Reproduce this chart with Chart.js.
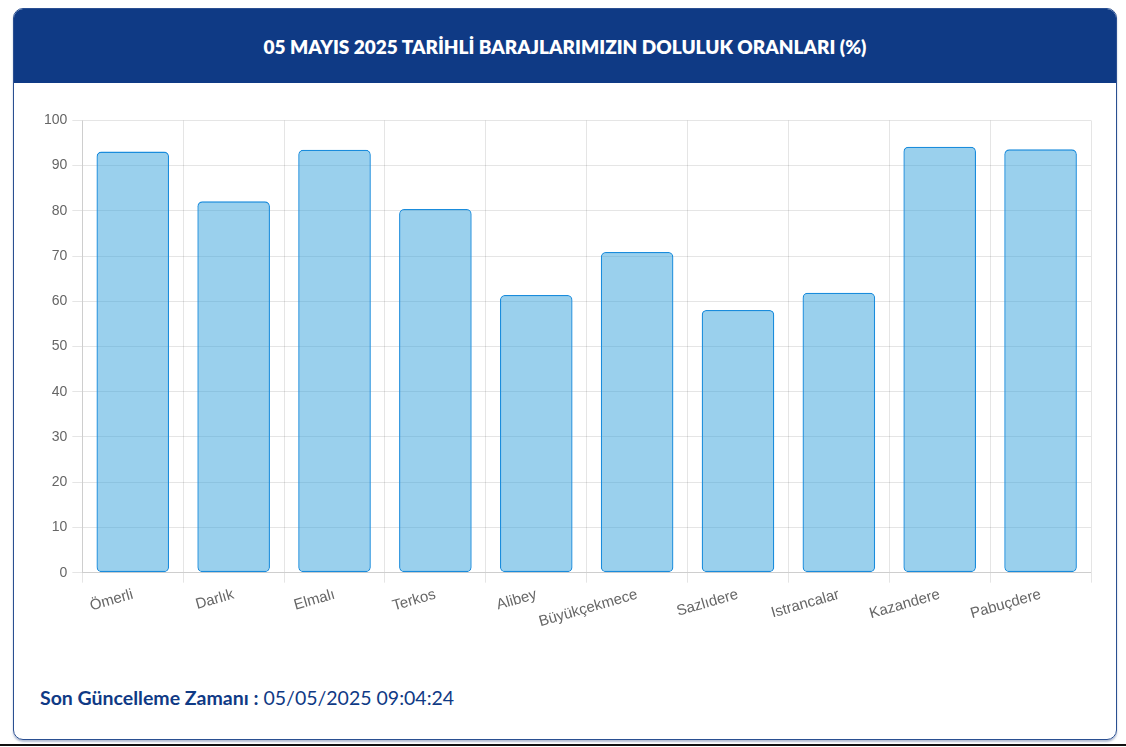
<!DOCTYPE html>
<html>
<head>
<meta charset="utf-8">
<script src="https://cdn.jsdelivr.net/npm/chart.js@4.4.1/dist/chart.umd.min.js"></script>
<style>
  html, body { margin: 0; padding: 0; background: #fff; }
  body { width: 1126px; height: 747px; position: relative; overflow: hidden; font-family: "Lato", "Open Sans", sans-serif; }
  .card {
    position: absolute; left: 13px; top: 8px; width: 1102px; height: 730px;
    border: 1px solid #2a4f91; border-radius: 10px; overflow: hidden;
    box-shadow: 0 2px 2px rgba(40,70,130,0.35);
  }
  .card-head {
    height: 74px; background: #0f3a85; color: #fff;
    display: flex; align-items: center; justify-content: center;
    font-weight: 800; font-size: 19px; letter-spacing: 0;
  }
  .chart-box { position: absolute; left: 25px; top: 98px; width: 1064px; height: 527px; }
  .footer {
    position: absolute; left: 26px; top: 677px; font-size: 19.5px; color: #0f3a85;
  }
  .footer b { font-weight: 700; }
  .page-line { position: absolute; left: 0; right: 0; top: 744px; height: 2px; background: #111; }
</style>
</head>
<body>
<div class="card">
  <div class="card-head">05 MAYIS 2025 TARİHLİ BARAJLARIMIZIN DOLULUK ORANLARI (%)</div>
  <div class="chart-box"><canvas id="chart"></canvas></div>
  <div class="footer"><b>Son Güncelleme Zamanı :</b> 05/05/2025 09:04:24</div>
</div>
<div class="page-line"></div>
<script>
// baraj isimleri ve doluluk oranlari
const dams = ["Ömerli", "Darlık", "Elmalı", "Terkos", "Alibey", "Büyükçekmece", "Sazlıdere", "Istrancalar", "Kazandere", "Pabuçdere"];
const fillRates = [93.1, 82.1, 93.5, 80.4, 61.4, 70.9, 58.1, 61.9, 94.2, 93.6];
const yTicks = [0, 10, 20, 30, 40, 50, 60, 70, 80, 90, 100];

const chart = new Chart(document.getElementById("chart"), {
  type: "bar",
  data: {
    labels: dams,
    datasets: [{
      label: "Doluluk",
      data: fillRates,
      backgroundColor: "rgba(54,162,220,0.5)",
      borderColor: "#1a8cdc",
      borderWidth: 1.3,
      borderRadius: 5,
      borderSkipped: false
    }]
  },
  options: {
    responsive: true,
    maintainAspectRatio: false,
    animation: false,
    layout: { padding: { top: 8, right: 12, left: 0, bottom: 0 } },
    plugins: {
      legend: { display: false },
      tooltip: { enabled: false }
    },
    scales: {
      x: {
        grid: { color: "rgba(0,0,0,0.1)", tickLength: 10 },
        ticks: {
          color: "#666",
          font: { family: "Liberation Sans", size: 15 },
          minRotation: 16, maxRotation: 16
        }
      },
      y: {
        min: 0, max: 100,
        afterBuildTicks: (axis) => { axis.ticks = yTicks.map(v => ({ value: v })); },
        grid: { color: "rgba(0,0,0,0.1)", tickLength: 10 },
        ticks: {
          color: "#666",
          padding: 5,
          font: { family: "Liberation Sans", size: 14 }
        }
      }
    }
  }
});
</script>
</body>
</html>
